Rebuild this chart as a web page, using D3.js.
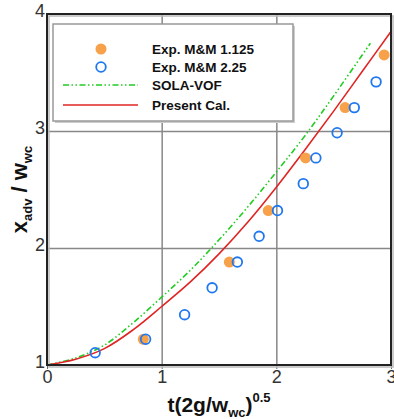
<!DOCTYPE html>
<html>
<head>
<script src="https://d3js.org/d3.v7.min.js"></script>
<style>
  body { margin: 0; background: #fff; }
  svg { display: block; font-family: "Liberation Sans", Arial, sans-serif; }
  .tick text { fill: #333; }
</style>
</head>
<body>
<script>
  var width = 394;
  var height = 419;
  var margin = {top: 14, left: 47, right: 3, bottom: 54};

  // experiment, M&M 1.125 (filled)
  var mm1x = [0.84, 1.59, 1.93, 2.255, 2.60, 2.94];
  var mm1y = [1.22, 1.88, 2.32, 2.77, 3.20, 3.65];
  // experiment, M&M 2.25 (open)
  var mm2x = [0.42, 0.86, 1.20, 1.44, 1.66, 1.85, 2.01, 2.235, 2.345, 2.53, 2.68, 2.87];
  var mm2y = [1.105, 1.22, 1.43, 1.66, 1.88, 2.10, 2.32, 2.55, 2.77, 2.985, 3.20, 3.42];
  // SOLA-VOF
  var solaX = [0, 0.25, 0.5, 0.75, 1.0, 1.25, 1.5, 1.75, 2.0, 2.25, 2.5, 2.82];
  var solaY = [1.0, 1.06, 1.17, 1.36, 1.58, 1.81, 2.07, 2.35, 2.65, 2.96, 3.30, 3.75];
  // present calculation
  var calX = [0, 0.25, 0.5, 0.75, 1.0, 1.25, 1.5, 1.75, 2.0, 2.25, 2.5, 2.75, 3.0];
  var calY = [1.0, 1.05, 1.14, 1.30, 1.50, 1.71, 1.95, 2.22, 2.52, 2.84, 3.17, 3.51, 3.85];

  var xTicks = [0, 1, 2, 3];
  var yTicks = [1, 2, 3, 4];
  var legendNames = ["Exp. M&M 1.125", "Exp. M&M 2.25", "SOLA-VOF", "Present Cal."];

  var orange = "#f7a14a", blue = "#1f78f0", green = "#22cc22", red = "#e02424";

  var svg = d3.select("body").append("svg")
    .attr("width", width)
    .attr("height", height);

  var x = d3.scaleLinear().domain([0, 3]).range([margin.left, width - margin.right]);
  var y = d3.scaleLinear().domain([1, 4]).range([height - margin.bottom, margin.top]);

  // grid
  svg.append("g")
    .attr("transform", `translate(0,${height - margin.bottom})`)
    .call(d3.axisBottom(x).tickValues([1, 2]).tickSize(-(height - margin.bottom - margin.top)).tickFormat(""))
    .call(g => g.select(".domain").remove())
    .selectAll("line").attr("stroke", "#888").attr("stroke-width", 1.5);
  svg.append("g")
    .attr("transform", `translate(${margin.left},0)`)
    .call(d3.axisLeft(y).tickValues([2, 3]).tickSize(-(width - margin.left - margin.right)).tickFormat(""))
    .call(g => g.select(".domain").remove())
    .selectAll("line").attr("stroke", "#888").attr("stroke-width", 1.5);

  // tick labels
  var xAxis = svg.append("g")
    .attr("transform", `translate(0,${height - margin.bottom})`)
    .call(d3.axisBottom(x).tickValues(xTicks).tickSize(4).tickFormat(d3.format("d")));
  xAxis.select(".domain").remove();
  xAxis.selectAll("line").attr("stroke", "#666");
  xAxis.selectAll("text").attr("font-size", 18).attr("dy", "0.6em").attr("font-family", "Liberation Sans");

  var yAxis = svg.append("g")
    .attr("transform", `translate(${margin.left},0)`)
    .call(d3.axisLeft(y).tickValues(yTicks).tickSize(0).tickPadding(2).tickFormat(d3.format("d")));
  yAxis.select(".domain").remove();
  yAxis.selectAll("text").attr("font-size", 18).attr("dy", "0.15em").attr("font-family", "Liberation Sans");

  // curves
  var line = d3.line().x(d => x(d[0])).y(d => y(d[1])).curve(d3.curveCatmullRom.alpha(0.5));
  svg.append("path")
    .datum(d3.zip(solaX, solaY))
    .attr("d", line)
    .attr("fill", "none")
    .attr("stroke", green)
    .attr("stroke-width", 1.6)
    .attr("stroke-dasharray", "6,2.5,1.5,2.5,1.5,2.5");
  svg.append("path")
    .datum(d3.zip(calX, calY))
    .attr("d", line)
    .attr("fill", "none")
    .attr("stroke", red)
    .attr("stroke-width", 1.6);

  // markers
  svg.selectAll("circle.mm1")
    .data(d3.zip(mm1x, mm1y))
    .enter().append("circle")
    .attr("class", "mm1")
    .attr("cx", d => x(d[0]))
    .attr("cy", d => y(d[1]))
    .attr("r", 5.5)
    .attr("fill", orange);
  svg.selectAll("circle.mm2")
    .data(d3.zip(mm2x, mm2y))
    .enter().append("circle")
    .attr("class", "mm2")
    .attr("cx", d => x(d[0]))
    .attr("cy", d => y(d[1]))
    .attr("r", 4.8)
    .attr("fill", "none")
    .attr("stroke", blue)
    .attr("stroke-width", 1.8);

  // frame
  svg.append("rect")
    .attr("x", margin.left + 2).attr("y", margin.top + 2)
    .attr("width", width - margin.left - margin.right)
    .attr("height", height - margin.top - margin.bottom)
    .attr("fill", "none").attr("stroke", "#bbb").attr("stroke-width", 1.5);
  svg.append("rect")
    .attr("x", margin.left).attr("y", margin.top)
    .attr("width", width - margin.left - margin.right)
    .attr("height", height - margin.top - margin.bottom)
    .attr("fill", "none").attr("stroke", "#222").attr("stroke-width", 2);

  // legend
  var lg = svg.append("g");
  lg.append("rect")
    .attr("x", 55).attr("y", 26).attr("width", 240).attr("height", 97)
    .attr("fill", "#ccc");
  lg.append("rect")
    .attr("x", 53).attr("y", 24).attr("width", 240).attr("height", 97)
    .attr("fill", "#fff").attr("stroke", "#999").attr("stroke-width", 1.5);
  var rows = [49, 67, 85, 105];
  lg.append("circle").attr("cx", 101).attr("cy", rows[0]).attr("r", 5.5).attr("fill", orange);
  lg.append("circle").attr("cx", 101).attr("cy", rows[1]).attr("r", 4.8)
    .attr("fill", "none").attr("stroke", blue).attr("stroke-width", 1.8);
  lg.append("line").attr("x1", 63).attr("x2", 138).attr("y1", rows[2]).attr("y2", rows[2])
    .attr("stroke", green).attr("stroke-width", 1.6).attr("stroke-dasharray", "6,2.5,1.5,2.5,1.5,2.5");
  lg.append("line").attr("x1", 63).attr("x2", 138).attr("y1", rows[3]).attr("y2", rows[3])
    .attr("stroke", red).attr("stroke-width", 1.6);
  lg.selectAll("text")
    .data(legendNames)
    .enter().append("text")
    .attr("x", 152)
    .attr("y", (d, i) => rows[i])
    .attr("dy", "0.36em")
    .attr("font-size", 13.5)
    .attr("font-weight", "bold")
    .attr("fill", "#111")
    .text(d => d);

  // axis titles
  var xt = svg.append("text")
    .attr("x", (margin.left + width - margin.right) / 2)
    .attr("y", 412)
    .attr("text-anchor", "middle")
    .attr("font-weight", "bold")
    .attr("font-size", 21)
    .attr("fill", "#111");
  xt.append("tspan").text("t(2g/w");
  xt.append("tspan").attr("font-size", 13).attr("dy", 5).text("wc");
  xt.append("tspan").attr("dy", -5).text(")");
  xt.append("tspan").attr("font-size", 13).attr("dy", -10).text("0.5");

  var yt = svg.append("text")
    .attr("transform", `translate(27,${(margin.top + height - margin.bottom) / 2}) rotate(-90)`)
    .attr("text-anchor", "middle")
    .attr("font-weight", "bold")
    .attr("font-size", 22)
    .attr("fill", "#111");
  yt.append("tspan").text("x");
  yt.append("tspan").attr("font-size", 13).attr("dy", 5).text("adv");
  yt.append("tspan").attr("dy", -5).text(" / w");
  yt.append("tspan").attr("font-size", 13).attr("dy", 5).text("wc");
</script>
</body>
</html>
